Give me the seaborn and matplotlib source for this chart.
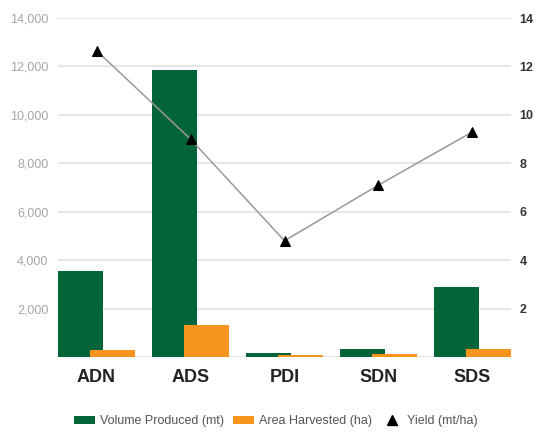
import numpy as np
import pandas as pd
import matplotlib
matplotlib.use("Agg")
import matplotlib.pyplot as plt
import seaborn as sns
from matplotlib.patches import Patch
from matplotlib.lines import Line2D

# ---- data ----
categories = ["ADN", "ADS", "PDI", "SDN", "SDS"]
volume_produced = [3550, 11850, 150, 320, 2880]     # mt
area_harvested = [300, 1320, 80, 140, 320]         # ha
yield_mt_ha = [12.65, 9.0, 4.8, 7.1, 9.3]          # mt/ha
left_ticks = [2000, 4000, 6000, 8000, 10000, 12000, 14000]
right_ticks = [2, 4, 6, 8, 10, 12, 14]

green = "#03643A"
orange = "#F7941D"

sns.set_theme(style="white")
plt.rcParams["font.family"] = ["Liberation Sans", "DejaVu Sans"]

fig = plt.figure(figsize=(5.36, 4.33), dpi=100)
ax = fig.add_axes([58 / 536, 1 - 357 / 433, (511 - 58) / 536, (357 - 18) / 433])

idx = np.arange(len(categories))
df_v = pd.DataFrame({"pos": idx - 0.17, "val": volume_produced})
df_a = pd.DataFrame({"pos": idx + 0.17, "val": area_harvested})

sns.barplot(data=df_v, x="pos", y="val", native_scale=True, width=0.48,
            color=green, saturation=1, ax=ax, zorder=3, linewidth=0)
sns.barplot(data=df_a, x="pos", y="val", native_scale=True, width=0.48,
            color=orange, saturation=1, ax=ax, zorder=4, linewidth=0)

ax.set_xlim(-0.41, len(categories) - 1 + 0.41)
ax.set_ylim(0, 14000)
ax.set_yticks([0] + left_ticks)
ax.set_yticklabels([""] + [f"{t:,}" for t in left_ticks], color="#a6a6a6", fontsize=9)
ax.set_xticks(idx)
ax.set_xticklabels(categories, fontsize=13, fontweight="bold", color="#222222")
ax.tick_params(axis="x", length=0, pad=9)
ax.tick_params(axis="y", length=0, pad=7)
ax.grid(axis="y", color="#e6e6e6", linewidth=1.5, zorder=0)
ax.set_axisbelow(True)
ax.set_xlabel("")
ax.set_ylabel("")
for s in ax.spines.values():
    s.set_visible(False)

ax2 = ax.twinx()
sns.lineplot(x=idx, y=yield_mt_ha, ax=ax2, color="#999999", linewidth=1.1,
             marker="^", markersize=6.5, markerfacecolor="black",
             markeredgecolor="black", zorder=5)
ax2.set_ylim(0, 14)
ax2.set_yticks(right_ticks)
ax2.set_yticklabels([str(t) for t in right_ticks], color="#333333",
                    fontsize=9, fontweight="bold")
ax2.tick_params(axis="y", length=0, pad=6)
ax2.grid(False)
for s in ax2.spines.values():
    s.set_visible(False)
ax2.set_ylabel("")

handles = [
    Patch(facecolor=green, edgecolor="none", label="Volume Produced (mt)"),
    Patch(facecolor=orange, edgecolor="none", label="Area Harvested (ha)"),
    Line2D([], [], linestyle="none", marker="^", color="black", markersize=6.5,
           label="Yield (mt/ha)"),
]
fig.legend(handles=handles, loc="center", bbox_to_anchor=(0.515, 1 - 421 / 433),
           ncol=3, frameon=False, fontsize=9, labelcolor="#555555",
           handlelength=1.7, handleheight=0.6, handletextpad=0.4,
           columnspacing=0.7)

fig.savefig("out.png", dpi=100)
